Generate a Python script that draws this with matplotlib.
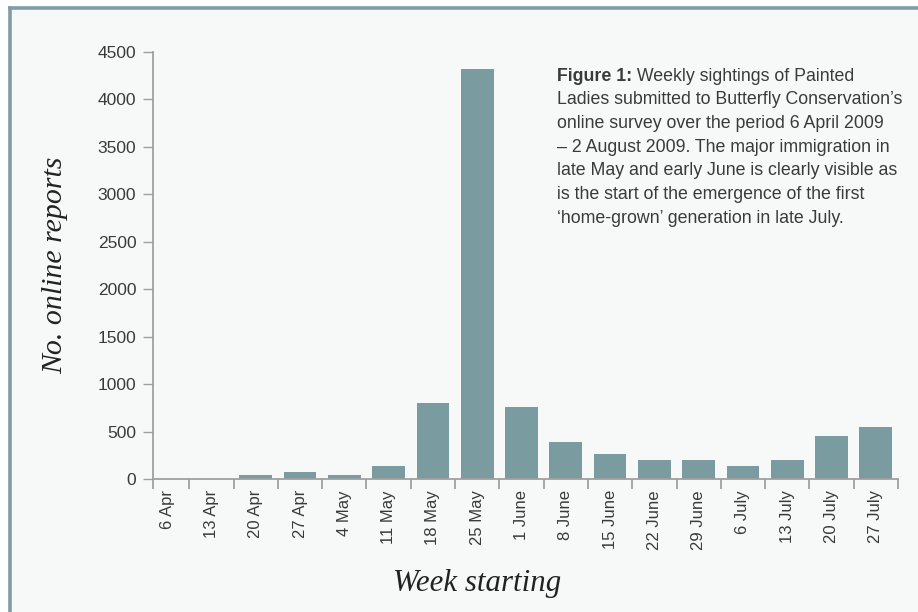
import matplotlib
matplotlib.use("Agg")
import matplotlib.pyplot as plt
from matplotlib.lines import Line2D
from matplotlib.patches import Rectangle

weeks = ["6 Apr", "13 Apr", "20 Apr", "27 Apr", "4 May", "11 May", "18 May",
         "25 May", "1 June", "8 June", "15 June", "22 June", "29 June",
         "6 July", "13 July", "20 July", "27 July"]
reports = [0, 0, 42, 77, 45, 140, 804, 4320, 762, 390, 267, 200, 200,
           137, 200, 456, 551]
yticks = [0, 500, 1000, 1500, 2000, 2500, 3000, 3500, 4000, 4500]

caption_bold = "Figure 1:"
caption_first = " Weekly sightings of Painted"
caption_rest = ("Ladies submitted to Butterfly Conservation\u2019s\n"
                "online survey over the period 6 April 2009\n"
                "\u2013 2 August 2009. The major immigration in\n"
                "late May and early June is clearly visible as\n"
                "is the start of the emergence of the first\n"
                "\u2018home-grown\u2019 generation in late July.")

BAR = "#7a9ca0"
BG = "#f7f9f9"
FRAME = "#7f9ea3"
TXT = "#3a3a3a"
SPINE = "#a0a0a0"

plt.rcParams["font.family"] = ["Liberation Sans", "DejaVu Sans"]

W, H = 918, 612
fig = plt.figure(figsize=(W / 100, H / 100), dpi=100)
fig.patch.set_facecolor("white")

# panel background with frame on left and top
fig.patches.append(Rectangle((10 / W, 0), 1, 1 - 8 / H, transform=fig.transFigure,
                             facecolor=BG, edgecolor="none", zorder=-2))
fig.lines.append(Line2D([10 / W, 10 / W], [0, 1 - 8 / H], transform=fig.transFigure,
                        color=FRAME, lw=2.6))
fig.lines.append(Line2D([10 / W, 1], [1 - 8 / H, 1 - 8 / H], transform=fig.transFigure,
                        color=FRAME, lw=2.6))

ax = fig.add_axes([153 / W, 1 - 479 / H, (898 - 153) / W, (479 - 52) / H])
ax.set_facecolor("none")

x = list(range(len(weeks)))
ax.bar(x, reports, width=0.74, color=BAR, zorder=2)

x0 = -0.5 + 8 / 44.3
ax.set_xlim(x0, len(weeks) - 0.5)
ax.set_ylim(0, 4500)

ax.set_yticks(yticks)
ax.set_yticklabels([str(v) for v in yticks], fontsize=12.5, color=TXT)
ax.tick_params(axis="y", length=7, width=1, color=SPINE, pad=5)

ax.set_xticks(x)
ax.set_xticklabels(weeks, rotation=90, fontsize=12, color=TXT, va="top")
ax.tick_params(axis="x", which="major", length=0, pad=8)
ax.set_xticks([x0] + [i + 0.5 for i in x], minor=True)
ax.tick_params(axis="x", which="minor", length=7.5, width=1.3, color=SPINE)

for s in ("top", "right"):
    ax.spines[s].set_visible(False)
for s in ("left", "bottom"):
    ax.spines[s].set_color(SPINE)
    ax.spines[s].set_linewidth(1.3)

ax.set_ylabel("No. online reports", fontsize=21.5, style="italic",
              family=["Liberation Serif"], color="#222222", labelpad=21)
ax.set_xlabel("Week starting", fontsize=22.2, style="italic",
              family=["Liberation Serif"], color="#222222", labelpad=10)
ax.xaxis.set_label_coords((477 - 153) / 745, -0.21)

# caption: bold lead-in, rest of first line, then remaining lines
cx, cy = (557 - 153) / 745, 0.962
bold = ax.text(cx, cy, caption_bold, transform=ax.transAxes, fontsize=12.8,
               color=TXT, va="top", ha="left", weight="bold")
ax.annotate(caption_first, xy=(1, 0), xycoords=bold, fontsize=12.8,
            color=TXT, va="bottom", ha="left")
ax.annotate(caption_rest, xy=(0, 0), xycoords=bold, xytext=(0, -4),
            textcoords="offset points", fontsize=12.8, color=TXT,
            va="top", ha="left", linespacing=1.53)

fig.savefig("out.png", dpi=100, facecolor=fig.get_facecolor())
